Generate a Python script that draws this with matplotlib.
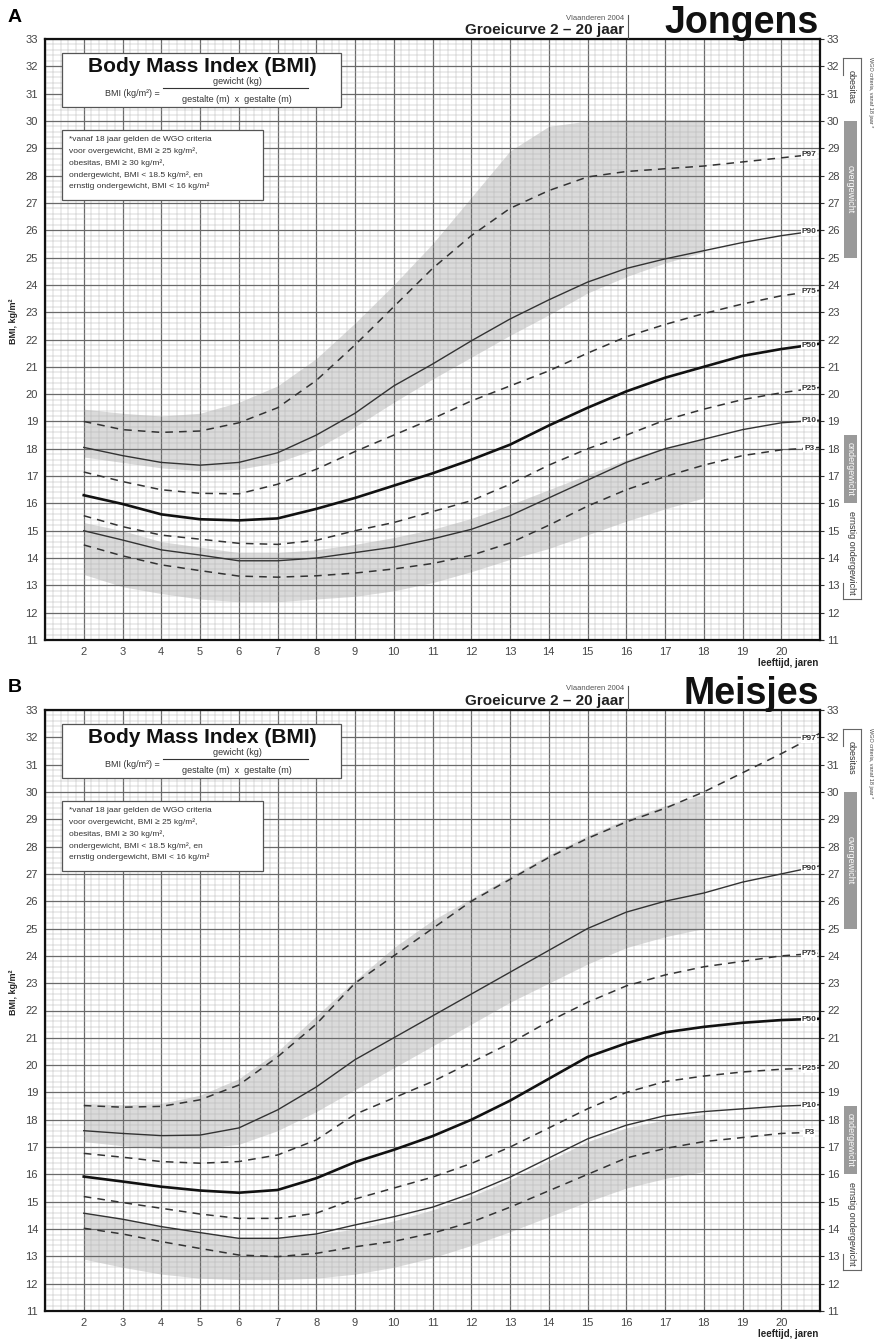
import matplotlib.pyplot as plt
from matplotlib.patches import Rectangle
from matplotlib.lines import Line2D
import numpy as np

plt.rcParams['font.family'] = ['Liberation Sans', 'DejaVu Sans']

# ---- data ----
ages = [2, 3, 4, 5, 6, 7, 8, 9, 10, 11, 12, 13, 14, 15, 16, 17, 18, 19, 20, 21]
pct_names = ['P97', 'P90', 'P75', 'P50', 'P25', 'P10', 'P3']

boys_p97 = [19.0, 18.7, 18.6, 18.65, 18.95, 19.5, 20.5, 21.8, 23.2, 24.6, 25.8, 26.8, 27.45, 27.95, 28.15, 28.25, 28.35, 28.5, 28.65, 28.8]
boys_p90 = [18.05, 17.75, 17.5, 17.4, 17.5, 17.85, 18.5, 19.3, 20.3, 21.1, 21.95, 22.75, 23.45, 24.1, 24.6, 24.95, 25.25, 25.55, 25.8, 26.0]
boys_p75 = [17.15, 16.8, 16.5, 16.37, 16.35, 16.7, 17.25, 17.9, 18.5, 19.1, 19.75, 20.3, 20.85, 21.5, 22.1, 22.55, 22.95, 23.3, 23.6, 23.8]
boys_p50 = [16.3, 15.98, 15.6, 15.42, 15.38, 15.45, 15.8, 16.2, 16.65, 17.1, 17.6, 18.15, 18.85, 19.5, 20.1, 20.6, 21.0, 21.4, 21.65, 21.85]
boys_p25 = [15.55, 15.15, 14.84, 14.69, 14.54, 14.5, 14.65, 15.0, 15.3, 15.7, 16.1, 16.7, 17.4, 18.0, 18.5, 19.05, 19.45, 19.8, 20.05, 20.25]
boys_p10 = [15.0, 14.66, 14.3, 14.11, 13.9, 13.9, 14.0, 14.2, 14.4, 14.7, 15.05, 15.55, 16.2, 16.85, 17.5, 18.0, 18.35, 18.7, 18.95, 19.05]
boys_p3 = [14.48, 14.08, 13.75, 13.54, 13.34, 13.3, 13.35, 13.45, 13.6, 13.8, 14.1, 14.55, 15.2, 15.9, 16.5, 16.98, 17.4, 17.75, 17.96, 18.05]

girls_p97 = [18.52, 18.46, 18.49, 18.73, 19.27, 20.3, 21.5, 23.0, 24.0, 25.0, 26.0, 26.8, 27.6, 28.3, 28.9, 29.4, 30.0, 30.7, 31.4, 32.15]
girls_p90 = [17.6, 17.5, 17.42, 17.44, 17.7, 18.36, 19.2, 20.2, 21.0, 21.8, 22.6, 23.4, 24.2, 25.0, 25.6, 26.0, 26.3, 26.7, 27.0, 27.3]
girls_p75 = [16.77, 16.63, 16.47, 16.41, 16.47, 16.71, 17.26, 18.2, 18.8, 19.4, 20.1, 20.8, 21.6, 22.3, 22.9, 23.3, 23.6, 23.8, 24.0, 24.1]
girls_p50 = [15.92, 15.74, 15.55, 15.41, 15.33, 15.43, 15.86, 16.45, 16.9, 17.4, 18.0, 18.7, 19.5, 20.3, 20.8, 21.2, 21.4, 21.55, 21.65, 21.7]
girls_p25 = [15.19, 14.97, 14.76, 14.55, 14.39, 14.39, 14.58, 15.1, 15.5, 15.9, 16.4, 17.0, 17.7, 18.4, 19.0, 19.4, 19.6, 19.75, 19.85, 19.9]
girls_p10 = [14.58, 14.36, 14.09, 13.87, 13.66, 13.66, 13.82, 14.15, 14.45, 14.8, 15.3, 15.9, 16.6, 17.3, 17.8, 18.15, 18.3, 18.4, 18.5, 18.55]
girls_p3 = [14.03, 13.82, 13.54, 13.29, 13.05, 12.99, 13.11, 13.35, 13.55, 13.85, 14.25, 14.8, 15.4, 16.0, 16.6, 16.95, 17.2, 17.35, 17.5, 17.55]

band_ages = [2, 3, 4, 5, 6, 7, 8, 9, 10, 11, 12, 13, 14, 15, 16, 17, 18]
boys_upper_top = [19.45, 19.3, 19.2, 19.3, 19.7, 20.3, 21.3, 22.6, 24.0, 25.5, 27.2, 28.9, 29.8, 30.0, 30.05, 30.05, 30.05]
boys_upper_bot = [17.7, 17.5, 17.3, 17.2, 17.25, 17.5, 18.0, 18.8, 19.7, 20.55, 21.35, 22.15, 22.9, 23.7, 24.3, 24.8, 25.2]
boys_lower_top = [15.3, 15.0, 14.6, 14.4, 14.2, 14.2, 14.3, 14.5, 14.75, 15.05, 15.45, 15.95, 16.5, 17.05, 17.6, 18.05, 18.4]
boys_lower_bot = [13.4, 12.95, 12.7, 12.5, 12.4, 12.4, 12.5, 12.6, 12.8, 13.1, 13.5, 13.95, 14.35, 14.85, 15.35, 15.8, 16.2]

girls_upper_top = [18.6, 18.55, 18.6, 18.9, 19.5, 20.5, 21.8, 23.1, 24.3, 25.3, 26.1, 26.9, 27.7, 28.4, 29.0, 29.5, 29.9]
girls_upper_bot = [17.2, 17.05, 16.95, 16.95, 17.1, 17.6, 18.3, 19.1, 19.9, 20.7, 21.5, 22.3, 23.0, 23.7, 24.3, 24.7, 25.0]
girls_lower_top = [14.6, 14.4, 14.1, 13.9, 13.7, 13.7, 13.8, 14.0, 14.3, 14.7, 15.2, 15.8, 16.5, 17.2, 17.7, 18.0, 18.2]
girls_lower_bot = [12.9, 12.6, 12.35, 12.2, 12.15, 12.15, 12.2, 12.35, 12.6, 12.95, 13.4, 13.9, 14.45, 15.0, 15.5, 15.85, 16.1]

x_tick_labels = [str(a) for a in range(2, 21)]
y_ticks = list(range(11, 34))

W, H = 877, 1340
fig = plt.figure(figsize=(W / 100, H / 100), dpi=100)

GRAY_TXT = '#444444'


def fx(px):
    return px / W


def fy(py):
    return 1 - py / H


def draw_panel(top, letter, title, series, bands):
    # top = pixel row of the y=33 line
    ax = fig.add_axes([fx(45), fy(top + 601), fx(775), 601 / H])
    ax.set_xlim(1, 21)
    ax.set_ylim(11, 33)

    # grey reference bands
    for lo, hi in bands:
        ax.fill_between(band_ages, lo, hi, color='#dadada', lw=0, zorder=0.5)

    # millimetre-style grid
    ax.set_xticks(range(1, 22), [''] + x_tick_labels + [''])
    ax.set_xticks(np.arange(1, 21.01, 0.2), minor=True)
    ax.set_yticks(y_ticks)
    ax.set_yticks(np.arange(11, 33.01, 0.2), minor=True)
    ax.grid(which='major', color='#6a6a6a', lw=0.9)
    ax.grid(which='minor', color='#b4b4b4', lw=0.35)
    ax.set_axisbelow('line')
    ax.tick_params(axis='x', which='both', length=0, pad=5, labelsize=8, labelcolor=GRAY_TXT)
    ax.tick_params(axis='y', which='minor', length=0)
    ax.tick_params(axis='y', which='major', left=False, right=True, labelright=True,
                   direction='out', length=3, pad=2, labelsize=8, labelcolor=GRAY_TXT, color='#333333')
    for s in ax.spines.values():
        s.set_linewidth(1.6)
        s.set_color('#111111')

    # percentile curves
    styles = {
        'P97': dict(ls=(0, (5, 4)), lw=1.1, color='#333333'),
        'P90': dict(ls='-', lw=1.0, color='#333333'),
        'P75': dict(ls=(0, (5, 4)), lw=1.1, color='#333333'),
        'P50': dict(ls='-', lw=1.9, color='#111111'),
        'P25': dict(ls=(0, (5, 4)), lw=1.1, color='#333333'),
        'P10': dict(ls='-', lw=1.0, color='#333333'),
        'P3': dict(ls=(0, (5, 4)), lw=1.1, color='#333333'),
    }
    for name, vals in zip(pct_names, series):
        ax.plot(ages, vals, zorder=2.5, **styles[name])
        lx = 20.72
        ax.text(lx, np.interp(lx, ages, vals), name, fontsize=6, fontweight='bold',
                color='#333333', ha='center', va='center', zorder=4,
                bbox=dict(facecolor='white', edgecolor='none', pad=0.6))

    # BMI formula box
    ax.add_patch(Rectangle((1.44, 30.5), 7.2, 2.0, facecolor='white',
                           edgecolor='#555555', lw=0.9, zorder=3))
    ax.text(5.05, 32.0, 'Body Mass Index (BMI)', fontsize=15, fontweight='bold',
            ha='center', va='center', color='#111111', zorder=4)
    ax.text(3.97, 31.02, 'BMI (kg/m²) =', fontsize=6.5, ha='right', va='center',
            color='#333333', zorder=4)
    ax.add_line(Line2D([4.05, 7.79], [31.19, 31.19], color='#333333', lw=0.8, zorder=4))
    ax.text(5.96, 31.45, 'gewicht (kg)', fontsize=6.5, ha='center', va='center',
            color='#333333', zorder=4)
    ax.text(5.96, 30.8, 'gestalte (m)  x  gestalte (m)', fontsize=6.5, ha='center',
            va='center', color='#333333', zorder=4)

    # WGO note box
    ax.add_patch(Rectangle((1.44, 27.1), 5.18, 2.57, facecolor='white',
                           edgecolor='#555555', lw=0.9, zorder=3))
    note = ['*vanaf 18 jaar gelden de WGO criteria',
            'voor overgewicht, BMI \u2265 25 kg/m²,',
            'obesitas, BMI \u2265 30 kg/m²,',
            'ondergewicht, BMI < 18.5 kg/m², en',
            'ernstig ondergewicht, BMI < 16 kg/m²']
    for i, line in enumerate(note):
        ax.text(1.62, 29.32 - i * 0.43, line, fontsize=6, ha='left', va='center',
                color='#333333', zorder=4)

    ax.text(20.95, 10.17, 'leeftijd, jaren', fontsize=7, fontweight='bold',
            ha='right', va='center', color='#222222')
    ax.set_ylabel('BMI, kg/m²', fontsize=6.5, fontweight='bold', color='#222222')
    ax.yaxis.set_label_coords(-0.035, 0.53)

    # header texts
    fig.text(fx(8), fy(top - 22), letter, fontsize=14, fontweight='bold',
             ha='left', va='center', color='black')
    fig.text(fx(624), fy(top - 9), 'Groeicurve 2 \u2013 20 jaar', fontsize=11,
             fontweight='bold', ha='right', va='center', color='#222222')
    fig.text(fx(624), fy(top - 21), 'Vlaanderen 2004', fontsize=5.5,
             ha='right', va='center', color='#555555')
    fig.add_artist(Line2D([fx(628), fx(628)], [fy(top - 24), fy(top - 1)],
                          color='#555555', lw=0.8))
    fig.text(fx(819), fy(top - 16), title, fontsize=27, fontweight='bold',
             ha='right', va='center', color='#111111')

    # WGO criteria column at the right
    rx = fig.add_axes([fx(838), fy(top + 601), fx(39), 601 / H])
    rx.set_xlim(838, 877)
    rx.set_ylim(11, 33)
    rx.axis('off')
    rx.plot([861, 861], [12.5, 32.3], color='#666666', lw=0.8)
    rx.plot([843, 861], [32.3, 32.3], color='#666666', lw=0.8)
    rx.plot([843, 843], [31.7, 32.3], color='#666666', lw=0.8)
    rx.plot([843, 861], [12.5, 12.5], color='#666666', lw=0.8)
    rx.plot([843, 843], [12.5, 13.1], color='#666666', lw=0.8)
    rx.add_patch(Rectangle((844, 25.0), 13, 5.0, facecolor='#9a9a9a', edgecolor='none'))
    rx.add_patch(Rectangle((844, 16.0), 13, 2.5, facecolor='#9a9a9a', edgecolor='none'))
    rx.text(851, 31.25, 'obesitas', rotation=270, fontsize=6.5, ha='center',
            va='center', color='#333333')
    rx.text(850.5, 27.5, 'overgewicht', rotation=270, fontsize=6.5, ha='center',
            va='center', color='white')
    rx.text(850.5, 17.25, 'ondergewicht', rotation=270, fontsize=6.5, ha='center',
            va='center', color='white')
    rx.text(851, 14.2, 'ernstig ondergewicht', rotation=270, fontsize=6.5, ha='center',
            va='center', color='#333333')
    rx.text(870, 32.35, 'WGO criteria, vanaf 18 jaar *', rotation=270, fontsize=4,
            ha='center', va='top', color='#444444')


draw_panel(39, 'A', 'Jongens',
           [boys_p97, boys_p90, boys_p75, boys_p50, boys_p25, boys_p10, boys_p3],
           [(boys_upper_bot, boys_upper_top), (boys_lower_bot, boys_lower_top)])
draw_panel(710, 'B', 'Meisjes',
           [girls_p97, girls_p90, girls_p75, girls_p50, girls_p25, girls_p10, girls_p3],
           [(girls_upper_bot, girls_upper_top), (girls_lower_bot, girls_lower_top)])

fig.savefig('out.png', dpi=100)
